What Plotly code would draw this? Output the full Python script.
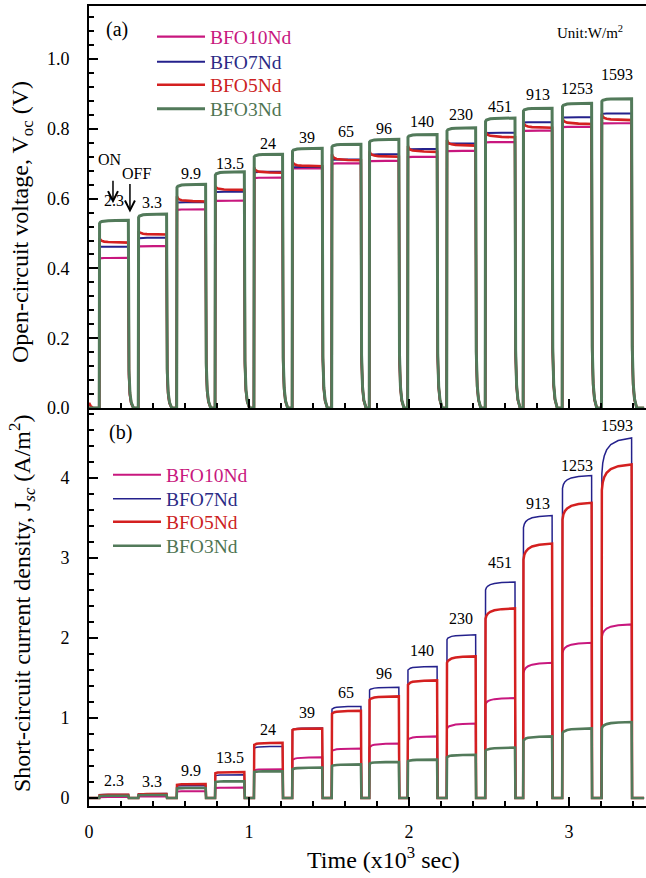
import numpy as np
import plotly.graph_objects as go

# ---------------- data ----------------
intensity_labels = ["2.3", "3.3", "9.9", "13.5", "24", "39", "65", "96",
                    "140", "230", "451", "913", "1253", "1593"]
t_on = [0.064, 0.308, 0.548, 0.788, 1.031, 1.270, 1.517, 1.752, 1.992,
        2.236, 2.477, 2.714, 2.958, 3.204]
t_off = [0.246, 0.485, 0.729, 0.971, 1.210, 1.458, 1.700, 1.937, 2.176,
         2.417, 2.663, 2.895, 3.142, 3.392]
t_end = 3.47

series_names = ["BFO10Nd", "BFO7Nd", "BFO5Nd", "BFO3Nd"]

# Open-circuit voltage (V): level right after switching ON, level at switching OFF
voc_start_10 = [0.429, 0.463, 0.568, 0.593, 0.659, 0.686, 0.700, 0.707, 0.719, 0.736, 0.761, 0.794, 0.805, 0.815]
voc_end_10 = [0.430, 0.464, 0.569, 0.594, 0.660, 0.687, 0.701, 0.708, 0.720, 0.737, 0.762, 0.795, 0.806, 0.816]
voc_start_7 = [0.462, 0.486, 0.588, 0.618, 0.675, 0.689, 0.711, 0.726, 0.741, 0.757, 0.788, 0.818, 0.832, 0.843]
voc_end_7 = [0.462, 0.488, 0.590, 0.620, 0.677, 0.691, 0.712, 0.727, 0.742, 0.758, 0.789, 0.819, 0.833, 0.844]
voc_start_5 = [0.487, 0.507, 0.607, 0.636, 0.689, 0.706, 0.727, 0.736, 0.751, 0.768, 0.794, 0.819, 0.831, 0.842]
voc_end_5 = [0.474, 0.497, 0.592, 0.625, 0.674, 0.693, 0.710, 0.720, 0.734, 0.752, 0.776, 0.803, 0.814, 0.825]
voc_start_3 = [0.529, 0.546, 0.632, 0.667, 0.720, 0.736, 0.748, 0.762, 0.776, 0.794, 0.821, 0.851, 0.864, 0.879]
voc_end_3 = [0.538, 0.556, 0.641, 0.677, 0.727, 0.744, 0.756, 0.770, 0.784, 0.803, 0.831, 0.859, 0.873, 0.886]
voc_initial = [0.0, 0.0, 0.015, 0.0]

# Short-circuit current density (A/m^2)
jsc_start_10 = [0.010, 0.018, 0.080, 0.125, 0.345, 0.475, 0.585, 0.635, 0.725, 0.865, 1.170, 1.560, 1.810, 2.010]
jsc_end_10 = [0.012, 0.020, 0.085, 0.130, 0.360, 0.510, 0.620, 0.680, 0.770, 0.930, 1.250, 1.690, 1.940, 2.170]
jsc_start_7 = [0.040, 0.050, 0.150, 0.280, 0.625, 0.855, 1.110, 1.350, 1.600, 1.980, 2.600, 3.380, 3.870, 4.050]
jsc_end_7 = [0.045, 0.055, 0.155, 0.290, 0.645, 0.875, 1.145, 1.385, 1.645, 2.040, 2.700, 3.530, 4.030, 4.500]
jsc_start_5 = [0.035, 0.045, 0.165, 0.310, 0.665, 0.850, 1.055, 1.225, 1.415, 1.690, 2.240, 2.980, 3.480, 3.850]
jsc_end_5 = [0.040, 0.050, 0.175, 0.325, 0.690, 0.870, 1.090, 1.270, 1.470, 1.770, 2.370, 3.180, 3.690, 4.170]
jsc_start_3 = [0.025, 0.035, 0.120, 0.200, 0.325, 0.360, 0.400, 0.430, 0.460, 0.510, 0.590, 0.720, 0.810, 0.870]
jsc_end_3 = [0.028, 0.038, 0.125, 0.210, 0.335, 0.380, 0.420, 0.450, 0.480, 0.540, 0.630, 0.770, 0.870, 0.950]

# heights (data units) of the intensity labels in each panel
label_y_voc = [0.596, 0.590, 0.673, 0.702, 0.759, 0.774, 0.791, 0.802, 0.822, 0.840, 0.865, 0.897, 0.917, 0.957]
label_y_jsc = [0.225, 0.210, 0.350, 0.510, 0.860, 1.075, 1.325, 1.560, 1.840, 2.240, 2.940, 3.675, 4.160, 4.660]

# ---------------- style ----------------
colors = ["#C8177E", "#24218C", "#D42020", "#527A5A"]
text_colors = ["#C8177E", "#2B2B85", "#CC2222", "#4F7553"]
voc_widths = [2.2, 2.0, 2.6, 3.0]
jsc_widths = [2.0, 1.5, 2.5, 2.6]
SERIF = "Liberation Serif, Times New Roman, serif"

# transient shapes (fractions of the ON duration, relative weights)
plateau_f = [0.0, 0.03, 0.08, 0.16, 0.30, 0.55, 1.0]
voc_w = [1.0, 0.6, 0.38, 0.22, 0.12, 0.05, 0.0]
jsc_w = [1.0, 0.7, 0.5, 0.33, 0.18, 0.07, 0.0]
voc_fall_dt = [0.0, 0.004, 0.010, 0.018, 0.032]
voc_fall_w = [1.0, 0.2, 0.08, 0.03, 0.0]
jsc_fall_dt = [0.0, 0.003]
jsc_fall_w = [1.0, 0.0]

# plot-area geometry in pixels (used only to place legends / labels)
L, T, B, W, H = 89, 6, 72, 646, 878
PW, PH = W - L, H - T - B


def px_x(px):
    return (px - L) / PW


def px_y(py):
    return (H - B - py) / PH


def waveform(v_start, v_end, pw, fdt, fw, init=0.0):
    xs, ys = [0.0], [init]
    if init > 0:
        xs += [0.01, 0.025]
        ys += [init * 0.4, 0.0]
    for on, off, a, b in zip(t_on, t_off, v_start, v_end):
        xs.append(on)
        ys.append(0.0)
        dur = off - on
        for f, w in zip(plateau_f, pw):
            xs.append(on + 0.002 + f * (dur - 0.002))
            ys.append(b + (a - b) * w)
        for d, w in zip(fdt, fw):
            xs.append(off + d)
            ys.append(b * w)
    xs.append(t_end)
    ys.append(0.0)
    return np.array(xs), np.array(ys)


voc_sets = [(voc_start_10, voc_end_10), (voc_start_7, voc_end_7),
            (voc_start_5, voc_end_5), (voc_start_3, voc_end_3)]
jsc_sets = [(jsc_start_10, jsc_end_10), (jsc_start_7, jsc_end_7),
            (jsc_start_5, jsc_end_5), (jsc_start_3, jsc_end_3)]

legend_rows_a = [37, 62, 85, 109]
legend_rows_b = [475, 499, 522, 546]
legend_left_a = 152
legend_left_b = 108

fig = go.Figure()
legend_layouts = {}
for i, name in enumerate(series_names):
    xs, ys = waveform(voc_sets[i][0], voc_sets[i][1], voc_w, voc_fall_dt, voc_fall_w, voc_initial[i])
    key = "legend" if i == 0 else f"legend{i + 1}"
    fig.add_trace(go.Scatter(
        x=xs, y=ys, mode="lines", xaxis="x2", yaxis="y", legend=key,
        name=f"<span style='color:{text_colors[i]}'>{name}</span>",
        line=dict(color=colors[i], width=voc_widths[i])))
    legend_layouts[key] = dict(x=px_x(legend_left_a), y=px_y(legend_rows_a[i]),
                               xanchor="left", yanchor="middle",
                               bgcolor="rgba(0,0,0,0)", borderwidth=0, itemwidth=48,
                               font=dict(family=SERIF, size=19.5))
for i, name in enumerate(series_names):
    xs, ys = waveform(jsc_sets[i][0], jsc_sets[i][1], jsc_w, jsc_fall_dt, jsc_fall_w)
    key = f"legend{i + 5}"
    fig.add_trace(go.Scatter(
        x=xs, y=ys, mode="lines", xaxis="x", yaxis="y2", legend=key,
        name=f"<span style='color:{text_colors[i]}'>{name}</span>",
        line=dict(color=colors[i], width=jsc_widths[i])))
    legend_layouts[key] = dict(x=px_x(legend_left_b), y=px_y(legend_rows_b[i]),
                               xanchor="left", yanchor="middle",
                               bgcolor="rgba(0,0,0,0)", borderwidth=0, itemwidth=48,
                               font=dict(family=SERIF, size=19.5))

tickfont = dict(family=SERIF, size=18, color="black")
common = dict(showline=True, linecolor="black", linewidth=2, ticks="inside",
              tickcolor="black", tickwidth=2, ticklen=9, showgrid=False,
              zeroline=False, tickfont=tickfont)
minor_common = dict(ticks="inside", ticklen=5, tickwidth=1.5, tickcolor="black")

fig.update_layout(
    width=W, height=H,
    margin=dict(l=L, r=0, t=T, b=B),
    paper_bgcolor="white", plot_bgcolor="white",
    showlegend=True,
    xaxis=dict(domain=[0, 1], anchor="y2", range=[0, 3.482], dtick=1, tick0=0,
               ticklabelstandoff=8, minor=dict(dtick=0.2, **minor_common), **common),
    xaxis2=dict(domain=[0, 1], anchor="y", matches="x", showticklabels=False,
                mirror=True, dtick=1, tick0=0,
                minor=dict(dtick=0.2, **minor_common), **common),
    yaxis=dict(domain=[px_y(408), 1], anchor="x2", range=[0, 1.152], dtick=0.2, tick0=0,
               tickformat=".1f", ticklabelstandoff=14,
               minor=dict(dtick=0.04, **minor_common), **common),
    yaxis2=dict(domain=[0, px_y(408)], anchor="x", range=[-0.1, 4.875], dtick=1, tick0=0,
                ticklabelstandoff=14, minor=dict(dtick=0.2, **minor_common), **common),
    **legend_layouts,
)

ann = []
label_font = dict(family=SERIF, size=16, color="black")
for k, lab in enumerate(intensity_labels):
    xc = (t_on[k] + t_off[k]) / 2
    ann.append(dict(x=xc, y=label_y_voc[k], xref="x2", yref="y", text=lab,
                    showarrow=False, font=label_font, xanchor="center", yanchor="middle"))
    ann.append(dict(x=xc, y=label_y_jsc[k], xref="x", yref="y2", text=lab,
                    showarrow=False, font=label_font, xanchor="center", yanchor="middle"))

# ON / OFF markers
onoff = dict(family=SERIF, size=16, color="black")
small = dict(family=SERIF, size=15, color="black")
ann.append(dict(x=0.131, y=0.711, xref="x2", yref="y", text="ON", showarrow=False,
                font=onoff, xanchor="center", yanchor="middle"))
ann.append(dict(x=0.300, y=0.673, xref="x2", yref="y", text="OFF", showarrow=False,
                font=onoff, xanchor="center", yanchor="middle"))
ann.append(dict(x=0.150, y=0.587, xref="x2", yref="y", text="", showarrow=True,
                ax=0, ay=-24, arrowhead=5, arrowsize=1.3, arrowwidth=1.5, arrowcolor="black"))
ann.append(dict(x=0.256, y=0.560, xref="x2", yref="y", text="", showarrow=True,
                ax=0, ay=-30, arrowhead=5, arrowsize=1.3, arrowwidth=1.5, arrowcolor="black"))

big = dict(family=SERIF, size=20, color="black")
ann.append(dict(x=px_x(117), y=px_y(29), xref="paper", yref="paper", text="(a)",
                showarrow=False, font=big, xanchor="center", yanchor="middle"))
ann.append(dict(x=px_x(120), y=px_y(432), xref="paper", yref="paper", text="(b)",
                showarrow=False, font=big, xanchor="center", yanchor="middle"))
ann.append(dict(x=px_x(590), y=px_y(32), xref="paper", yref="paper", text="Unit:W/m<sup>2</sup>",
                showarrow=False, font=small, xanchor="center", yanchor="middle"))
title_font = dict(family=SERIF, size=24, color="black")
ann.append(dict(x=px_x(383), y=px_y(858), xref="paper", yref="paper",
                text="Time (x10<sup>3</sup> sec)", showarrow=False, font=title_font,
                xanchor="center", yanchor="middle"))
ann.append(dict(x=px_x(22), y=px_y(222), xref="paper", yref="paper", textangle=-90,
                text="Open-circuit voltage, V<sub>oc</sub> (V)", showarrow=False,
                font=title_font, xanchor="center", yanchor="middle"))
ann.append(dict(x=px_x(22), y=px_y(604), xref="paper", yref="paper", textangle=-90,
                text="Short-circuit current density, J<sub><i>sc</i></sub> (A/m<sup>2</sup>)",
                showarrow=False, font=title_font, xanchor="center", yanchor="middle"))
fig.update_layout(annotations=ann)

fig.write_html("out.html")
